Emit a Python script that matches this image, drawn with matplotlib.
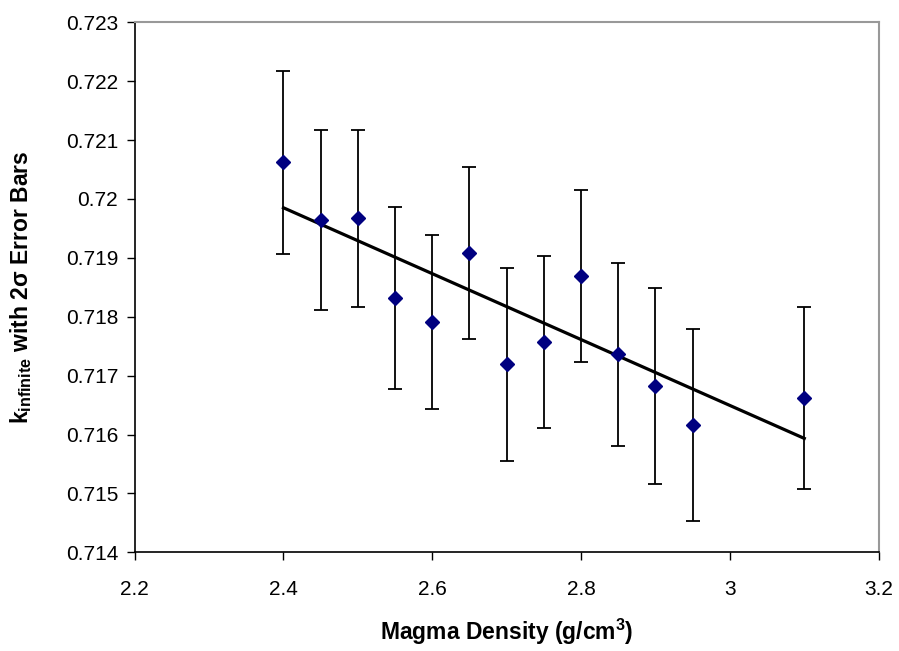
import numpy as np
import matplotlib.pyplot as plt

# densidad del magma (g/cm3)
densidad = np.array([2.40, 2.45, 2.50, 2.55, 2.60, 2.65, 2.70, 2.75, 2.80, 2.85, 2.90, 2.95, 3.10])
# k infinito
k_inf = np.array([0.72062, 0.71965, 0.71967, 0.71832, 0.71791, 0.71909, 0.71719,
                  0.71757, 0.71869, 0.71736, 0.71682, 0.71617, 0.71662])
# barras de error 2 sigma
error_2s = np.array([0.00156, 0.00153, 0.00151, 0.00155, 0.00148, 0.00146, 0.00164,
                     0.00146, 0.00146, 0.00156, 0.00166, 0.00163, 0.00155])

x_ticks = [2.2, 2.4, 2.6, 2.8, 3.0, 3.2]
y_ticks = [0.714, 0.715, 0.716, 0.717, 0.718, 0.719, 0.72, 0.721, 0.722, 0.723]

plt.rcParams['font.family'] = ['Liberation Sans', 'DejaVu Sans']
plt.rcParams['mathtext.fontset'] = 'custom'
plt.rcParams['mathtext.rm'] = 'Liberation Sans'
plt.rcParams['mathtext.bf'] = 'Liberation Sans:bold'

fig = plt.figure(figsize=(8.99, 6.51), dpi=100)
ax = fig.add_axes([0.1498, 0.1516, 0.8276, 0.8141])

# linea de tendencia (minimos cuadrados)
m, b = np.polyfit(densidad, k_inf, 1)
x_lin = np.array([densidad.min(), densidad.max()])
ax.plot(x_lin, m * x_lin + b, color="black", linewidth=2.3, zorder=2)

ax.errorbar(densidad, k_inf, yerr=error_2s, fmt="none", ecolor="black",
            elinewidth=1.3, capsize=5, capthick=1.3, zorder=3)
ax.plot(densidad, k_inf, linestyle="none", marker="D", markersize=7.5,
        color="#000080", zorder=4)

ax.set_xlim(2.2, 3.2)
ax.set_ylim(0.714, 0.723)
ax.set_xticks(x_ticks)
ax.set_xticklabels(["2.2", "2.4", "2.6", "2.8", "3", "3.2"])
ax.set_yticks(y_ticks)
ax.set_yticklabels(["0.714", "0.715", "0.716", "0.717", "0.718", "0.719",
                    "0.72", "0.721", "0.722", "0.723"])
ax.tick_params(direction="out", length=6, width=1, labelsize=15, pad=6)
ax.tick_params(axis="x", pad=14)

for lado in ["left", "bottom"]:
    ax.spines[lado].set_color("black")
    ax.spines[lado].set_linewidth(1.2)
for lado in ["top", "right"]:
    ax.spines[lado].set_color("#999999")
    ax.spines[lado].set_linewidth(1.5)

ax.set_xlabel(r"Magma Density (g/cm$^{\mathbf{3}}$)", fontsize=16.5, fontweight="bold")
ax.set_ylabel(r"$\mathbf{k}_{\mathbf{infinite}}$ with 2σ Error Bars", fontsize=16.5,
              fontweight="bold")
ax.xaxis.set_label_coords(0.5, -0.1215)
ax.yaxis.set_label_coords(-0.135, 0.5)

fig.savefig("out.png", dpi=100)
